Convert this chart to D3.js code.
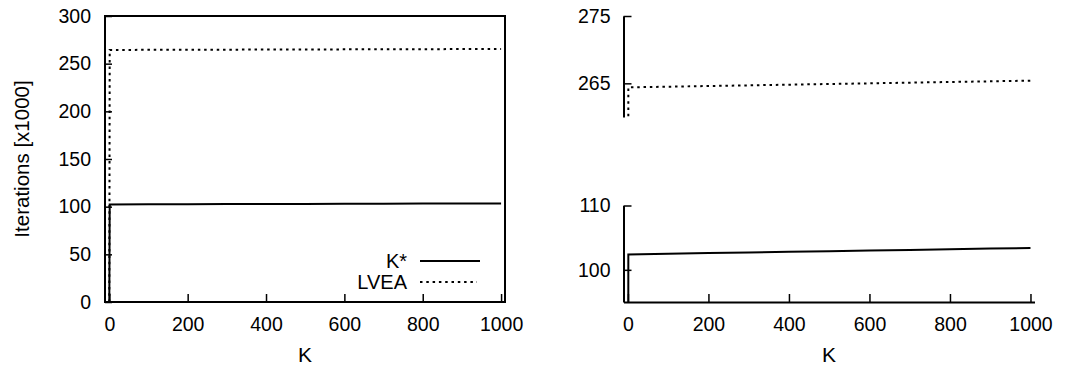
<!DOCTYPE html>
<html>
<head>
<meta charset="utf-8">
<script src="https://cdn.jsdelivr.net/npm/d3@7"></script>
<style>
  body { margin: 0; background: #fff; }
  svg { font-family: "Liberation Sans", Arial, sans-serif; }
  .tick text { font-size: 19.5px; fill: #000; }
</style>
</head>
<body>
<div id="chart"></div>
<script>
// data
const kValues = [0, 1, 100, 200, 300, 400, 500, 600, 700, 800, 900, 1000];
const kStarIters = [0, 102.4, 102.5, 102.6, 102.7, 102.8, 102.9, 103.0, 103.1, 103.2, 103.3, 103.4];
const lveaIters = [0, 264.4, 264.5, 264.6, 264.7, 264.8, 264.9, 265.0, 265.1, 265.2, 265.3, 265.4];
const xTicks = [0, 200, 400, 600, 800, 1000];
const leftYTicks = [0, 50, 100, 150, 200, 250, 300];
const upperYTicks = [265, 275];
const lowerYTicks = [100, 110];
const seriesNames = ["K*", "LVEA"];

const width = 1075, height = 367;
const bottom = 302;
const fmt = d3.format("d");

const svg = d3.select("#chart").append("svg")
  .attr("width", width)
  .attr("height", height);

svg.append("rect").attr("width", width).attr("height", height).attr("fill", "#fff");

const points = (ys) => kValues.map((k, i) => [k, ys[i]]);
const dotted = "2.5,3.8";

// ---------- left panel ----------
const xl = d3.scaleLinear().domain([-11, 1010]).range([105, 505]);
const yl = d3.scaleLinear().domain([0, 300]).range([bottom, 16]);

const left = svg.append("g");

left.append("g")
  .attr("transform", "translate(0," + bottom + ")")
  .call(d3.axisBottom(xl).tickValues(xTicks).tickFormat(fmt).tickSizeInner(-8).tickSizeOuter(0).tickPadding(15))
  .call(g => g.select(".domain").remove())
  .call(g => g.selectAll(".tick line").attr("stroke-width", 1.5));

left.append("g")
  .attr("transform", "translate(105,0)")
  .call(d3.axisLeft(yl).tickValues(leftYTicks).tickFormat(fmt).tickSizeInner(-7).tickSizeOuter(0).tickPadding(14))
  .call(g => g.select(".domain").remove())
  .call(g => g.selectAll(".tick line").attr("stroke-width", 1.5));

svg.append("clipPath").attr("id", "clipLeft")
  .append("rect").attr("x", 105).attr("y", 16).attr("width", 400).attr("height", bottom - 16);

const lineL = d3.line().x(d => xl(d[0])).y(d => yl(d[1]));

left.append("path")
  .attr("clip-path", "url(#clipLeft)")
  .attr("d", lineL(points(lveaIters)))
  .attr("fill", "none").attr("stroke", "#000").attr("stroke-width", 2)
  .attr("stroke-dasharray", dotted);

left.append("path")
  .attr("clip-path", "url(#clipLeft)")
  .attr("d", lineL(points(kStarIters)))
  .attr("fill", "none").attr("stroke", "#000").attr("stroke-width", 2);

left.append("rect")
  .attr("x", 105).attr("y", 16).attr("width", 400).attr("height", bottom - 16)
  .attr("fill", "none").attr("stroke", "#000").attr("stroke-width", 2);

left.append("text")
  .attr("transform", "translate(29," + ((16 + bottom) / 2) + ") rotate(-90)")
  .attr("text-anchor", "middle")
  .attr("font-size", 20.5)
  .text("Iterations [x1000]");

left.append("text")
  .attr("x", (105 + 505) / 2).attr("y", 362)
  .attr("text-anchor", "middle").attr("font-size", 21)
  .text("K");

// legend
const legend = left.append("g");
seriesNames.forEach((name, i) => {
  const ly = 261 + i * 21;
  legend.append("text")
    .attr("x", 407).attr("y", ly + 7)
    .attr("text-anchor", "end").attr("font-size", 20)
    .text(name);
  legend.append("line")
    .attr("x1", 420).attr("x2", i === 0 ? 480 : 477)
    .attr("y1", ly).attr("y2", ly)
    .attr("stroke", "#000").attr("stroke-width", 2)
    .attr("stroke-dasharray", i === 0 ? null : dotted);
});

// ---------- right panel (broken y axis) ----------
const xr = d3.scaleLinear().domain([-11, 1010]).range([623.5, 1034.5]);
const yu = d3.scaleLinear().domain([260, 275]).range([117, 16]);
const yd = d3.scaleLinear().domain([95, 110]).range([bottom, 205.5]);

const right = svg.append("g");

right.append("g")
  .attr("transform", "translate(0," + bottom + ")")
  .call(d3.axisBottom(xr).tickValues(xTicks).tickFormat(fmt).tickSizeInner(-8).tickSizeOuter(0).tickPadding(15))
  .call(g => g.select(".domain").attr("stroke-width", 2))
  .call(g => g.selectAll(".tick line").attr("stroke-width", 1.5));

right.append("g")
  .attr("transform", "translate(623.5,0)")
  .call(d3.axisLeft(yu).tickValues(upperYTicks).tickFormat(fmt).tickSizeInner(-8).tickSizeOuter(0).tickPadding(13))
  .call(g => g.select(".domain").attr("stroke-width", 2))
  .call(g => g.selectAll(".tick line").attr("stroke-width", 1.5));

right.append("g")
  .attr("transform", "translate(623.5,0)")
  .call(d3.axisLeft(yd).tickValues(lowerYTicks).tickFormat(fmt).tickSizeInner(-8).tickSizeOuter(0).tickPadding(13))
  .call(g => g.select(".domain").attr("stroke-width", 2))
  .call(g => g.selectAll(".tick line").attr("stroke-width", 1.5));

svg.append("clipPath").attr("id", "clipUpper")
  .append("rect").attr("x", 623.5).attr("y", 16).attr("width", 411).attr("height", 101);
svg.append("clipPath").attr("id", "clipLower")
  .append("rect").attr("x", 623.5).attr("y", 205.5).attr("width", 411).attr("height", bottom - 205.5);

right.append("path")
  .attr("clip-path", "url(#clipUpper)")
  .attr("d", d3.line().x(d => xr(d[0])).y(d => yu(d[1]))(points(lveaIters)))
  .attr("fill", "none").attr("stroke", "#000").attr("stroke-width", 2)
  .attr("stroke-dasharray", dotted);

right.append("path")
  .attr("clip-path", "url(#clipLower)")
  .attr("d", d3.line().x(d => xr(d[0])).y(d => yd(d[1]))(points(kStarIters)))
  .attr("fill", "none").attr("stroke", "#000").attr("stroke-width", 2);

right.append("text")
  .attr("x", 829).attr("y", 362)
  .attr("text-anchor", "middle").attr("font-size", 21)
  .text("K");
</script>
</body>
</html>
